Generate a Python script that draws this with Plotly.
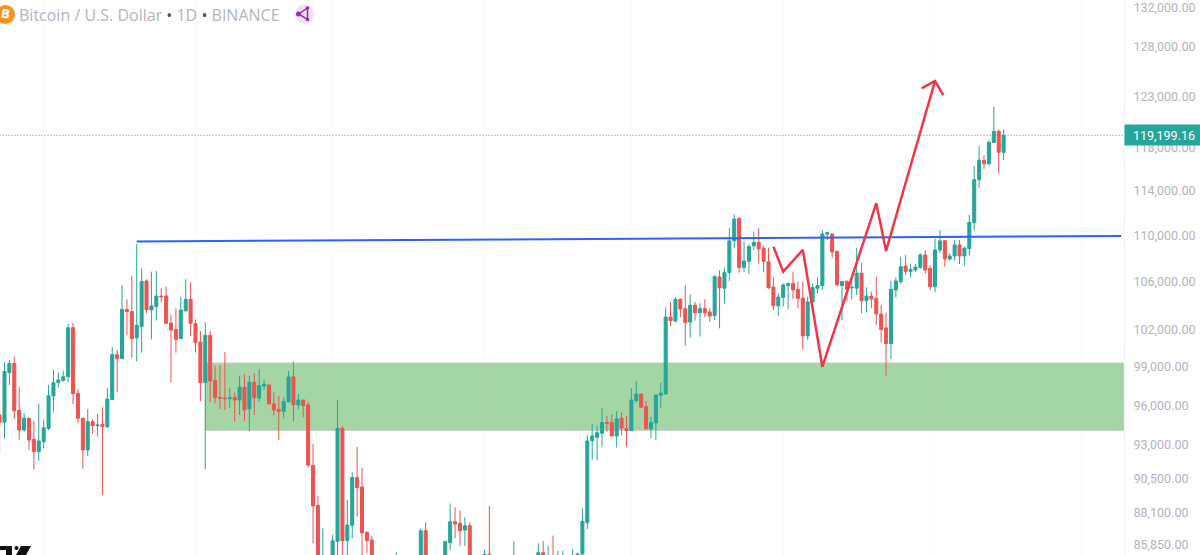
import math
import pandas as pd
import plotly.graph_objects as go

dates = pd.date_range("2024-12-23", periods=206, freq="D")

opens = [
    95270, 94710, 98560, 99290, 95630, 94130, 95020, 93430, 92510, 93260,
    94250, 96730, 97770, 97950, 98240, 102170, 96940, 95020, 92640, 94760,
    94460, 94560, 94380, 96450, 99990, 99670, 103690, 103500, 101360, 102260,
    106070, 103630, 103910, 104800, 104800, 102560, 102030, 101280, 103550, 104520,
    102500, 101010, 97770, 101550, 97930, 96620, 96570, 96520, 96620, 96420,
    97410, 95730, 97800, 96570, 97510, 97590, 96110, 95700, 95550, 96290,
    98220, 96040, 96420, 96040, 91500, 88600, 83900, 84700, 84350, 86100,
    94250, 86140, 87210, 90610, 89930, 86720, 86190, 80700, 78500, 82900,
    83600, 81100, 83900, 84300, 82600, 84000, 82700, 86830, 84200, 84000,
    83800, 85000, 86010, 87460, 87350, 86880, 87180, 84300, 82600, 82400,
    85200, 82600, 83100, 83800, 83500, 78400, 79100, 76300, 82600, 79600,
    83400, 85320, 83700, 84550, 83650, 84030, 84900, 84450, 85000, 85230,
    87390, 93330, 93580, 93880, 94710, 94690, 93680, 95020, 94230, 94080,
    96370, 96880, 95910, 94200, 94660, 96780, 96880, 103050, 102720, 104520,
    103740, 102640, 104020, 103410, 103740, 103470, 103170, 106410, 105450, 106780,
    109550, 111530, 107230, 107750, 109090, 109410, 108890, 107720, 105560, 103970,
    104680, 105680, 105870, 105360, 104630, 101500, 104300, 105450, 105680, 110140,
    110140, 108620, 105680, 106020, 105480, 105450, 106720, 104410, 104800, 104600,
    103300, 102150, 100880, 105310, 106020, 107350, 106890, 107010, 107230, 108300,
    107150, 105590, 108740, 109550, 107950, 108210, 109180, 108210, 108860, 111140,
    115040, 116830, 116520, 118510, 119580, 117590,
]
highs = [
    96500, 99370, 99560, 99830, 97410, 95400, 95090, 94810, 96110, 94940,
    97590, 98770, 98580, 98720, 102480, 102560, 97280, 95070, 95730, 94970,
    95350, 95860, 97330, 100580, 100370, 105730, 104520, 106500, 109260, 107150,
    106220, 106860, 106920, 105450, 105590, 103220, 103770, 104740, 106220, 105960,
    102860, 101900, 102610, 101900, 99110, 99190, 100200, 97380, 97020, 98320,
    98430, 98320, 98510, 98820, 97980, 97590, 97010, 96730, 96620, 98690,
    99400, 96880, 96420, 96290, 93080, 89280, 87000, 85100, 86530, 96420,
    94430, 89000, 90990, 92860, 91310, 86790, 86470, 83900, 83500, 84300,
    84200, 85340, 84600, 85000, 84700, 84400, 87000, 87420, 85000, 84700,
    85100, 86140, 88760, 88480, 88240, 87770, 87420, 84600, 83900, 85500,
    88570, 84700, 84700, 84200, 83800, 86120, 80800, 83500, 82700, 84200,
    85960, 86120, 85780, 86490, 85440, 85440, 85000, 85570, 85320, 88410,
    93750, 94590, 94460, 95780, 95200, 95320, 95580, 95480, 95200, 97330,
    97910, 96880, 96340, 95140, 96860, 97770, 103860, 104300, 104710, 104600,
    105730, 104940, 104320, 104190, 104520, 103770, 106550, 106980, 107210, 110660,
    111860, 111620, 109470, 109230, 110340, 110640, 109120, 108940, 106380, 105020,
    105870, 105930, 106860, 106020, 106020, 104740, 105870, 106380, 110460, 110340,
    110140, 108680, 106100, 106160, 106160, 108890, 107630, 105530, 105160, 106440,
    104050, 103410, 106070, 106350, 108160, 108300, 107570, 107520, 108450, 108740,
    107430, 109730, 110490, 109610, 108450, 109610, 109610, 109030, 111830, 116300,
    118190, 117340, 118700, 121970, 119770, 119770,
]
lows = [
    92440, 93460, 97590, 94970, 93380, 94000, 92640, 91210, 91840, 92760,
    94130, 95530, 97410, 97850, 97800, 96110, 94640, 91260, 92190, 93830,
    93630, 89350, 94250, 96420, 97010, 99670, 101580, 99720, 99450, 100150,
    103360, 101230, 102750, 104240, 102480, 97770, 100150, 101250, 103550, 101500,
    100150, 96320, 91210, 96240, 96160, 95730, 95650, 95830, 94760, 95270,
    94810, 94050, 95270, 96290, 97180, 96110, 95220, 93380, 95020, 96240,
    94760, 95700, 95090, 91360, 85960, 82000, 82800, 78200, 83800, 85050,
    81500, 85000, 86310, 87820, 84700, 85270, 80000, 77500, 76600, 80500,
    79900, 80800, 83600, 81900, 82400, 81200, 82400, 83600, 83200, 83600,
    83700, 84900, 85500, 86310, 85780, 85780, 83800, 81600, 81300, 82000,
    82300, 81700, 81600, 82400, 77200, 74500, 76200, 74600, 78400, 78900,
    82300, 83000, 83200, 83600, 83100, 83700, 84100, 84000, 83900, 84900,
    86950, 91890, 91890, 92840, 94000, 93680, 92810, 93750, 92890, 94080,
    96220, 95860, 94180, 93510, 93380, 95780, 96880, 102310, 102590, 103030,
    100720, 101360, 102750, 101440, 103030, 102640, 102810, 102120, 104190, 106070,
    108890, 106780, 106860, 106670, 108740, 107550, 106810, 105390, 103630, 103140,
    103910, 103690, 104550, 103770, 100420, 101170, 104190, 105020, 105310, 109610,
    108070, 105730, 102810, 104320, 104520, 104880, 103360, 103410, 103770, 102390,
    100960, 98320, 99610, 104660, 105820, 106550, 106380, 106860, 107120, 106670,
    105310, 105110, 108510, 107290, 107810, 107810, 107520, 107380, 108240, 110430,
    114310, 116030, 116330, 118510, 115630, 116860,
]
closes = [
    94710, 98640, 99290, 95600, 94130, 95020, 93380, 92510, 93310, 94300,
    96750, 97770, 97980, 98240, 102170, 96910, 95020, 92640, 94760, 94460,
    94510, 94380, 96500, 99990, 99670, 103690, 103500, 101280, 102370, 106020,
    103660, 103970, 104800, 104740, 102530, 101980, 101230, 103630, 104520, 102530,
    100960, 97770, 101550, 97900, 96600, 96550, 96520, 96620, 96420, 97410,
    95650, 97800, 96600, 97540, 97640, 96110, 95650, 95550, 96290, 98220,
    96060, 96420, 95990, 91520, 88570, 83900, 84700, 84350, 86140, 94250,
    86140, 87230, 90610, 89880, 86690, 86140, 80700, 78500, 82900, 83600,
    81100, 83900, 84300, 82600, 84000, 82700, 86830, 84200, 84000, 83800,
    85000, 86080, 87460, 87300, 86830, 87180, 84300, 82600, 82400, 85200,
    82600, 83100, 83800, 83500, 78400, 79100, 76300, 82600, 79600, 83400,
    85320, 83700, 84550, 83650, 84030, 84900, 84450, 85060, 85230, 87490,
    93310, 93680, 93930, 94690, 94640, 93680, 94970, 94280, 94080, 96420,
    96880, 95860, 94230, 94690, 96800, 96960, 103050, 102750, 104520, 103720,
    102590, 104020, 103410, 103740, 103410, 103140, 106440, 105480, 106780, 109530,
    111470, 107230, 107780, 109030, 109410, 108830, 107750, 105500, 103990, 104710,
    105730, 105850, 105310, 104600, 101500, 104300, 105510, 105680, 110140, 110250,
    108560, 105730, 106020, 105390, 105530, 106720, 104410, 104800, 104550, 103300,
    102030, 100880, 105360, 106070, 107290, 106890, 107060, 107260, 108300, 107010,
    105590, 108740, 109530, 107980, 108210, 109180, 108210, 108890, 111170, 115040,
    116860, 116520, 118540, 119580, 117590, 119199.16,
]

y_ticks = [132000, 128000, 123000, 118000, 114000, 110000, 106000, 102000,
           99000, 96000, 93000, 90500, 88100, 85850]
y_labels = ["132,000.00", "128,000.00", "123,000.00", "118,000.00", "114,000.00",
            "110,000.00", "106,000.00", "102,000.00", "99,000.00", "96,000.00",
            "93,000.00", "90,500.00", "88,100.00", "85,850.00"]
month_starts = ["2025-01-01", "2025-02-01", "2025-03-01", "2025-04-01",
                "2025-05-01", "2025-06-01", "2025-07-01", "2025-08-01"]

# drawings on the chart
trend_dates = ["2025-01-20", "2025-08-09"]
trend_prices = [109480, 109960]
path_dates = ["2025-05-30", "2025-06-01", "2025-06-05", "2025-06-09", "2025-06-20",
              "2025-06-22", "2025-07-02"]
path_prices = [109030, 106860, 108740, 99030, 112880, 108650, 124500]
head_dates = ["2025-06-29 07:00", "2025-07-02", "2025-07-03 17:00"]
head_prices = [123770, 124500, 123110]
zone_start = "2025-02-03"
zone_top = 99330
zone_bottom = 94090
last_price = closes[-1]

GREEN = "#26a69a"
RED = "#ef5350"
MARGIN_R = 76
W, H = 1200, 555
PLOT_W = W - MARGIN_R
X_END = "2025-08-09 14:00"


def px(x):
    return x / PLOT_W


def py(y):
    return 1 - y / H


fig = go.Figure()
fig.add_trace(go.Candlestick(
    x=dates, open=opens, high=highs, low=lows, close=closes,
    increasing=dict(line=dict(color=GREEN, width=1), fillcolor=GREEN),
    decreasing=dict(line=dict(color=RED, width=1), fillcolor=RED),
    whiskerwidth=0,
))
fig.add_trace(go.Scatter(x=trend_dates, y=trend_prices, mode="lines",
                         line=dict(color="#2962ff", width=2)))
fig.add_trace(go.Scatter(x=path_dates, y=path_prices, mode="lines",
                         line=dict(color="#f23645", width=2.5)))
fig.add_trace(go.Scatter(x=head_dates, y=head_prices, mode="lines",
                         line=dict(color="#f23645", width=2.5)))

fig.add_shape(type="rect", xref="x", yref="y", x0=zone_start, x1=X_END,
              y0=zone_bottom, y1=zone_top, fillcolor="#a4d5a4",
              line=dict(color="#ccd2cc", width=1), layer="below")
fig.add_trace(go.Scatter(x=[dates[0], X_END], y=[last_price, last_price], mode="lines",
                         line=dict(color=GREEN, width=1, dash="1px,2px")))

# header icons
fig.add_shape(type="circle", xref="paper", yref="paper", x0=px(-4), x1=px(15),
              y0=py(24), y1=py(5), fillcolor="#f7931a", line=dict(width=0))
fig.add_shape(type="circle", xref="paper", yref="paper", x0=px(295), x1=px(314),
              y0=py(23.5), y1=py(4.5), fillcolor="#f1e0f5", line=dict(width=0))
fig.add_shape(type="path", xref="paper", yref="paper",
              path=f"M {px(298.5)} {py(14)} L {px(307.5)} {py(8)} L {px(307.5)} {py(19.5)} Z",
              fillcolor="rgba(0,0,0,0)", line=dict(color="#9c27b0", width=1.5))
for cx, cy, r in [(298.5, 14, 2.5), (307.5, 8, 1.8), (307.5, 19.5, 1.8)]:
    fig.add_shape(type="circle", xref="paper", yref="paper", x0=px(cx - r), x1=px(cx + r),
                  y0=py(cy + r), y1=py(cy - r), fillcolor="#9c27b0", line=dict(width=0))

# piece of the logo cut off at the bottom left
fig.add_shape(type="path", xref="paper", yref="paper",
              path=f"M {px(0)} {py(546)} L {px(12)} {py(546)} L {px(12)} {py(555)} "
                   f"L {px(6)} {py(555)} L {px(6)} {py(550)} L {px(0)} {py(550)} Z",
              fillcolor="#111111", line=dict(width=0))
fig.add_shape(type="circle", xref="paper", yref="paper", x0=px(14.5), x1=px(18.5),
              y0=py(550), y1=py(546), fillcolor="#111111", line=dict(width=0))
fig.add_shape(type="path", xref="paper", yref="paper",
              path=f"M {px(21)} {py(546)} L {px(31)} {py(546)} L {px(26)} {py(555)} "
                   f"L {px(16)} {py(555)} Z",
              fillcolor="#111111", line=dict(width=0))

grey = "#b2b5be"
fig.add_annotation(
    xref="paper", yref="paper", x=0, y=1, xanchor="left", yanchor="middle",
    xshift=17, yshift=-15, showarrow=False, align="left",
    font=dict(family="Open Sans", size=16, color=grey),
    text='Bitcoin / U.S. Dollar <span style="color:#50535e">•</span> 1D '
         '<span style="color:#50535e">•</span> BINANCE',
)
fig.add_annotation(
    xref="paper", yref="paper", x=px(5.5), y=py(14.5), xanchor="center", yanchor="middle",
    showarrow=False, textangle=12,
    font=dict(family="DejaVu Sans", size=12, color="white", weight="bold"), text="B",
)
fig.add_annotation(
    xref="paper", yref="y", x=1, y=math.log10(last_price), xanchor="left", yanchor="middle",
    showarrow=False, bgcolor=GREEN, width=76, height=18, align="center",
    font=dict(family="Roboto", size=12.5, color="white"), text=f"{last_price:,.2f}",
)

fig.update_layout(
    width=W, height=H, margin=dict(l=0, r=MARGIN_R, t=0, b=0),
    paper_bgcolor="white", plot_bgcolor="white", showlegend=False, boxgap=0.12,
    xaxis=dict(
        type="date", range=["2024-12-23 02:00", X_END],
        rangeslider=dict(visible=False), showticklabels=False,
        tickvals=month_starts, showgrid=True, gridcolor="rgba(255,170,90,0.07)", gridwidth=1,
        zeroline=False, ticks="",
    ),
    yaxis=dict(
        type="log", side="right",
        range=[math.log10(85160), math.log10(132849)],
        tickvals=y_ticks, ticktext=y_labels, showgrid=False, zeroline=False,
        ticks="outside", ticklen=6, tickcolor="rgba(0,0,0,0)",
        showline=True, linecolor="#f0f3fa", linewidth=1,
        tickfont=dict(family="Roboto", size=12.5, color=grey),
    ),
)

fig.write_html("out.html", config={"displayModeBar": False},
               post_script="document.body.style.margin='0';document.body.style.overflow='hidden';")
